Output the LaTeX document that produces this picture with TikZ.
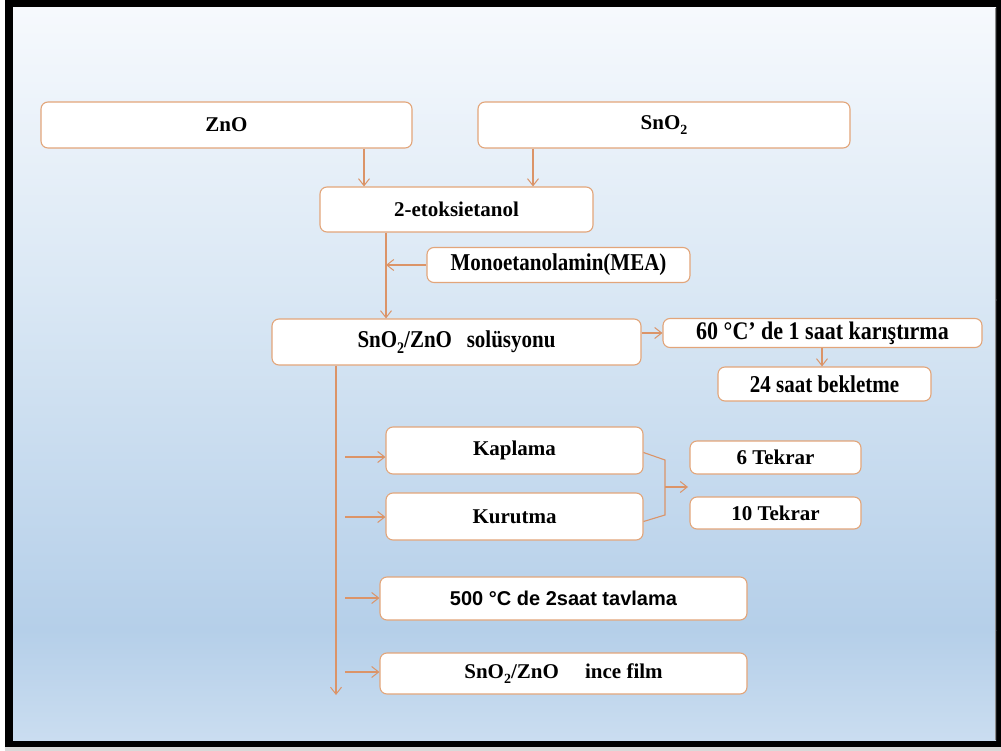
\documentclass[tikz,border=0pt]{standalone}
\usepackage{fontspec}
\usepackage{graphicx}
\setmainfont{Liberation Serif}
\newfontfamily\arialfont{Liberation Sans}
\usetikzlibrary{arrows.meta,calc}
\definecolor{boxline}{HTML}{E2A57A}
\definecolor{flowline}{HTML}{DB9468}
\definecolor{bgtop}{HTML}{F6F9FD}
\definecolor{bgmid}{HTML}{D9E7F4}
\definecolor{bgdeep}{HTML}{B5CFE9}
\definecolor{bgbot}{HTML}{CADDF0}
% bold subscript two for the oxide formulas
\newcommand\lowtwo{\raisebox{-0.22em}{\bfseries\fontsize{14}{14}\selectfont 2}}
% slightly taller lettering used in the middle rows
\newcommand\tallish[1]{\scalebox{1}[1.15]{#1}}
\tikzset{
  stepbox/.style={draw=boxline, line width=1.1pt, fill=white, rounded corners=7pt,
    inner sep=0pt, anchor=center, font=\bfseries\fontsize{21}{24}\selectfont},
  flow/.style={draw=flowline, line width=1.1pt},
  flowarrow/.style={flow, -{Straight Barb[length=7pt,width=11pt,line width=1pt]}},
}
\begin{document}
\begin{tikzpicture}[x=1pt,y=-1pt]
\useasboundingbox (0,0) rectangle (1001,751);
% frame and shaded panel
\fill[white] (0,0) rectangle (1001,751);
\fill[black!15!white] (5,746) rectangle (1001,751);
\fill[black] (5,0) rectangle (1001,747);
\shade[top color=bgtop, bottom color=bgmid] (13,8) rectangle (996,300.5);
\shade[top color=bgmid, bottom color=bgdeep] (13,300) rectangle (996,630.5);
\shade[top color=bgdeep, bottom color=bgbot] (13,630) rectangle (996,740);
\draw[black!45, line width=0.8pt] (995.6,8) -- (995.6,740);

% boxes
\node[stepbox, minimum width=371pt, minimum height=46pt] (zno) at (226.5,125) {ZnO};
\node[stepbox, minimum width=372pt, minimum height=46pt] (sno) at (664,125) {SnO\lowtwo};
\node[stepbox, minimum width=273pt, minimum height=45pt] (etok) at (456.5,209.5) {2-etoksietanol};
\node[stepbox, minimum width=263pt, minimum height=35pt] (mea) at (558.5,265) {\tallish{Monoetanolamin(MEA)}};
\node[stepbox, minimum width=369pt, minimum height=46pt] (sol) at (456.5,342) {\tallish{SnO\lowtwo/ZnO\hspace{0.45em} solüsyonu}};
\node[stepbox, minimum width=319pt, minimum height=29pt, font=\bfseries\fontsize{22}{24}\selectfont] (kar) at (822.5,333) {\tallish{60 °C’ de 1 saat karıştırma}};
\node[stepbox, minimum width=213pt, minimum height=34pt] (bek) at (824.5,384) {\tallish{24 saat bekletme}};
\node[stepbox, minimum width=257pt, minimum height=47pt] (kap) at (514.5,450.5) {Kaplama};
\node[stepbox, minimum width=257pt, minimum height=47pt] (kur) at (514.5,516.5) {Kurutma};
\node[stepbox, minimum width=171pt, minimum height=33pt] (six) at (775.5,457.5) {6 Tekrar};
\node[stepbox, minimum width=171pt, minimum height=32pt] (ten) at (775.5,513) {10 Tekrar};
\node[stepbox, minimum width=367pt, minimum height=43pt, font=\arialfont\bfseries\fontsize{20}{24}\selectfont] (tav) at (563.5,598.5) {500 °C de 2saat tavlama};
\node[stepbox, minimum width=367pt, minimum height=41pt] (film) at (563.5,673.5) {SnO\lowtwo/ZnO\hspace{1em} ince film};

% feeds into the solvent
\draw[flowarrow] (zno.south -| 364,0) -- (etok.north -| 364,0);
\draw[flowarrow] (sno.south -| 533,0) -- (etok.north -| 533,0);

% solvent and MEA into the solution
\coordinate (meajoin) at (386,265);
\draw[flowarrow] (etok.south -| meajoin) -- (sol.north -| meajoin);
\draw[flowarrow] (mea.west) -- (meajoin);

% stirring and ageing
\draw[flowarrow] (sol.east |- kar.west) -- (kar.west);
\draw[flowarrow] (kar.south -| 822,0) -- (bek.north -| 822,0);

% main trunk and its branches
\coordinate (trunkend) at (336,695);
\draw[flowarrow] (sol.south -| trunkend) -- (trunkend);
\foreach \b/\yy in {kap/457, kur/517, tav/598, film/672}{
  \coordinate (\b-in) at (345,\yy);
  \draw[flowarrow] (\b-in) -- (\b.west |- \b-in);
}

% repetition bracket
\coordinate (brtop) at (665,460);
\coordinate (brbot) at (665,515);
\coordinate (brmid) at (665,487);
\draw[flow] ($(kap.east)+(0,2)$) -- (brtop) -- (brbot) -- ($(kur.east)+(0,5)$);
\draw[flowarrow] (brmid) -- (688,487);
\end{tikzpicture}
\end{document}
